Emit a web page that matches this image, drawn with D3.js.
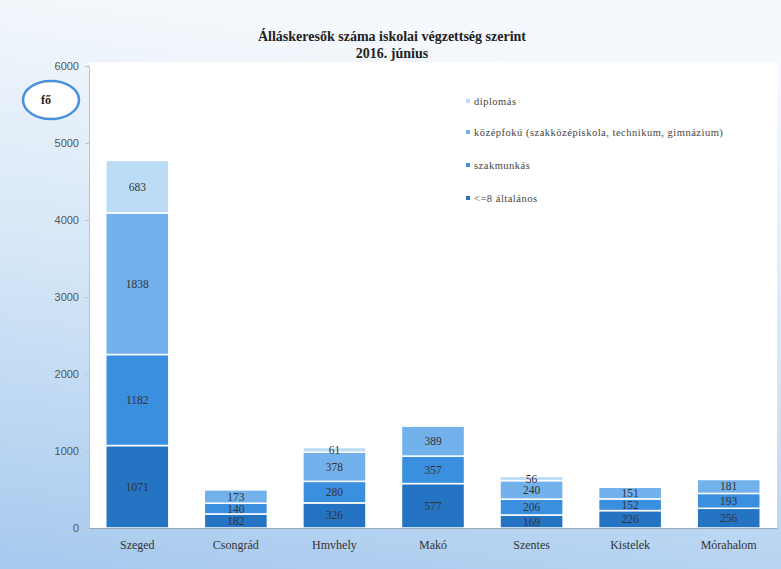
<!DOCTYPE html>
<html>
<head>
<meta charset="utf-8">
<script src="https://cdn.jsdelivr.net/npm/d3@7"></script>
<style>
  body { margin: 0; background: #fff; }
  svg { display: block; }
</style>
</head>
<body>
<svg width="781" height="569"></svg>
<script>
// categories + series (bottom to top)
const towns = ["Szeged", "Csongrád", "Hmvhely", "Makó", "Szentes", "Kistelek", "Mórahalom"]
const altalanos = [1071, 182, 326, 577, 169, 226, 256]
const szakmunkas = [1182, 140, 280, 357, 206, 152, 193]
const kozepfoku = [1838, 173, 378, 389, 240, 151, 181]
const diplomas = [683, 0, 61, 0, 56, 0, 0]
const seriesNames = ["<=8 általános", "szakmunkás", "középfokú (szakközépiskola, technikum, gimnázium)", "diplomás"]
const colors = ["#2574c4", "#3b8fdf", "#72b1ec", "#bcdcf6"]
const yTicks = [0, 1000, 2000, 3000, 4000, 5000, 6000]

const serif = "'Liberation Serif', 'DejaVu Serif', serif"
const svg = d3.select("svg")

// background, bluish scan tone
const defs = svg.append("defs")
const grad = defs.append("linearGradient").attr("id", "bg")
    .attr("x1", "0.2").attr("y1", "0").attr("x2", "0").attr("y2", "1")
grad.append("stop").attr("offset", "0").attr("stop-color", "#f5f8fc")
grad.append("stop").attr("offset", "0.45").attr("stop-color", "#d6e7f7")
grad.append("stop").attr("offset", "1").attr("stop-color", "#a6c9ee")
svg.append("rect").attr("width", 781).attr("height", 569).attr("fill", "url(#bg)")

const margin = {left: 89, right: 4, top: 66}

// white plot area
svg.append("rect")
    .attr("x", margin.left).attr("y", 62)
    .attr("width", 781 - margin.left - margin.right).attr("height", 528 - 62)
    .attr("fill", "#fff")

const x = d3.scaleBand()
    .domain(towns)
    .range([margin.left, 781 - margin.right])
    .paddingInner(0.36).paddingOuter(0.17)

const y = d3.scaleLinear()
    .domain([0, 6000])
    .range([528, margin.top])

const rows = towns.map((t, i) => ({
    town: t, v0: altalanos[i], v1: szakmunkas[i], v2: kozepfoku[i], v3: diplomas[i]
}))
const stack = d3.stack().keys(["v0", "v1", "v2", "v3"])(rows)

const layer = svg.selectAll("g.layer")
    .data(stack)
    .enter().append("g")
    .attr("class", "layer")
    .attr("fill", (d, i) => colors[i])

layer.selectAll("rect")
    .data(d => d.filter(s => s[1] - s[0] > 0))
    .enter().append("rect")
    .attr("x", d => x(d.data.town))
    .attr("width", x.bandwidth())
    .attr("y", d => y(d[1]))
    .attr("height", d => y(d[0]) - y(d[1]))
    .attr("stroke", "#fff")
    .attr("stroke-width", 1.5)

layer.selectAll("text")
    .data(d => d.filter(s => s[1] - s[0] > 0))
    .enter().append("text")
    .attr("x", d => x(d.data.town) + x.bandwidth() / 2)
    .attr("y", d => (y(d[0]) + y(d[1])) / 2)
    .attr("dy", "0.35em")
    .attr("text-anchor", "middle")
    .attr("font-size", 11.5)
    .style("font-family", serif)
    .attr("fill", "#333")
    .text(d => d[1] - d[0])

// axes
const yAxis = d3.axisLeft(y).tickValues(yTicks).tickFormat(d3.format("d")).tickSize(4).tickPadding(6)
const gy = svg.append("g").attr("transform", `translate(${margin.left},0)`).call(yAxis)
gy.select(".domain").attr("stroke", "#b9c4cf")
gy.selectAll(".tick line").attr("stroke", "#b9c4cf")
gy.selectAll("text").attr("font-size", 11).attr("fill", "#555")
    .style("font-family", "'Liberation Sans', Arial, sans-serif")

const xAxis = d3.axisBottom(x).tickSize(0).tickPadding(12)
const gx = svg.append("g").attr("transform", "translate(0,528)").call(xAxis)
gx.select(".domain").attr("stroke", "#9aa9b8")
gx.selectAll("text").attr("font-size", 12).attr("fill", "#333")
    .style("font-family", serif)

// title
svg.append("text").attr("x", 392).attr("y", 41).attr("text-anchor", "middle")
    .attr("font-size", 14).attr("font-weight", "bold").attr("fill", "#222")
    .style("font-family", serif)
    .text("Álláskeresők száma iskolai végzettség szerint")
svg.append("text").attr("x", 392).attr("y", 58).attr("text-anchor", "middle")
    .attr("font-size", 14).attr("font-weight", "bold").attr("fill", "#222")
    .style("font-family", serif)
    .text("2016. június")

// unit ellipse
svg.append("ellipse").attr("cx", 51).attr("cy", 100).attr("rx", 28).attr("ry", 19)
    .attr("fill", "#fff").attr("stroke", "#4a90dc").attr("stroke-width", 2.5)
svg.append("text").attr("x", 46).attr("y", 104).attr("text-anchor", "middle")
    .attr("font-size", 12).attr("font-weight", "bold").attr("fill", "#222")
    .style("font-family", serif).text("fő")

// legend (top item = diplomás)
const legY = [102, 133, 166, 199]
const leg = svg.selectAll("g.leg")
    .data([3, 2, 1, 0])
    .enter().append("g").attr("class", "leg")
    .attr("transform", (d, i) => `translate(466,${legY[i]})`)
leg.append("rect").attr("x", 0).attr("y", -3).attr("width", 4).attr("height", 4)
    .attr("fill", d => colors[d])
leg.append("text").attr("x", 8).attr("dy", "0.3em")
    .attr("font-size", 10.5).attr("fill", "#444")
    .attr("letter-spacing", 0.5)
    .style("font-family", serif)
    .text(d => seriesNames[d])
</script>
</body>
</html>
